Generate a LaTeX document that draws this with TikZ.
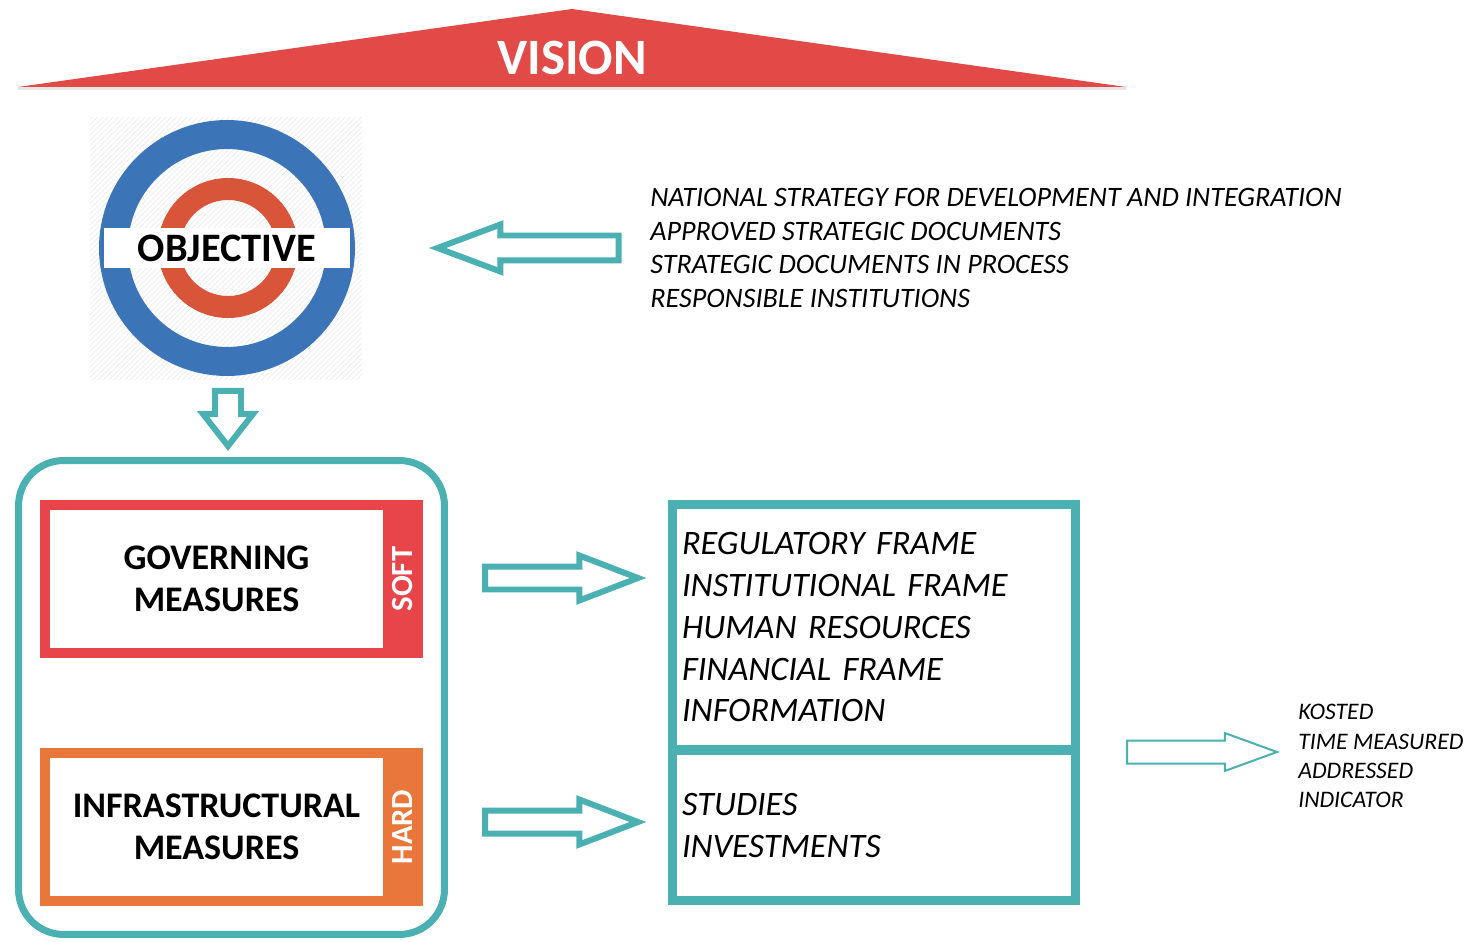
\documentclass[tikz,border=0pt]{standalone}
\usepackage{fontspec}
\setmainfont{Carlito}
\usepackage{tikz}
\usetikzlibrary{shapes.arrows, patterns}
\usetikzlibrary{positioning, calc}

\definecolor{visionred}{RGB}{226,74,71}
\definecolor{ringblue}{RGB}{59,117,184}
\definecolor{ringred}{RGB}{216,85,58}
\definecolor{tealline}{RGB}{74,176,177}
\definecolor{softred}{RGB}{232,69,74}
\definecolor{hardorange}{RGB}{233,118,58}

\tikzset{
  blockarrow/.style={single arrow, draw=tealline, fill=white, line width=0.12cm,
    inner xsep=0pt, inner ysep=0.17cm, single arrow head extend=0.22cm,
    single arrow tip angle=42},
  mbox/.style={draw=#1, line width=0.2cm, outer sep=0pt, minimum width=6.86cm,
    minimum height=2.96cm, align=center, font=\fontsize{20.5}{24}\selectfont\bfseries},
  tabbox/.style={fill=#1, rotate=90, minimum width=3.16cm, minimum height=0.8cm,
    text=white, font=\fontsize{17.5}{17.5}\selectfont\bfseries},
  framebox/.style={draw=tealline, line width=0.18cm, outer sep=0pt, minimum width=8.06cm,
    text width=7.68cm, inner xsep=0.19cm, align=left,
    font=\fontsize{19.5}{23.8}\selectfont\itshape},
}

\begin{document}
\begin{tikzpicture}[x=0.02cm, y=-0.02cm]
\useasboundingbox (0,0) rectangle (1474,942);

% vision roof
\fill[visionred] (18,87) -- (572,9) -- (1126,87) -- cycle;
\draw[gray!20, line width=0.06cm] (18,89) -- (1126,89);
\node[text=white, font=\fontsize{29}{29}\selectfont\bfseries] at (572,58) (vision) {VISION};

% objective sign
\fill[pattern=north east lines, pattern color=gray!15] (90,118) rectangle (362,380);
\node[circle, draw=ringblue, line width=0.58cm, minimum size=4.54cm] at (227,248) (ring1) {};
\node[circle, draw=ringred, line width=0.44cm, minimum size=2.36cm] at (228,248) (ring2) {};
\node[fill=white, minimum width=4.92cm, minimum height=0.8cm,
  font=\fontsize{23}{23}\selectfont\bfseries] at (227,248) (obj) {OBJECTIVE};

\node[anchor=west, align=left, inner sep=0pt,
  font=\fontsize{16}{19}\selectfont\itshape] at (650,248) (src) {NATIONAL STRATEGY FOR DEVELOPMENT AND INTEGRATION\\
APPROVED STRATEGIC DOCUMENTS\\
STRATEGIC DOCUMENTS IN PROCESS\\
RESPONSIBLE INSTITUTIONS};

\node[blockarrow, shape border rotate=180, anchor=tip, minimum height=3.62cm,
  inner ysep=0.19cm, single arrow tip angle=41] at (429,248) (a1) {};

\node[blockarrow, shape border rotate=270, anchor=tail, minimum height=1.1cm,
  inner xsep=0.2cm, inner ysep=0pt, single arrow head extend=0.24cm,
  single arrow tip angle=76] at (228,388) (a0) {};

% measures
\node[draw=tealline, line width=0.14cm, rounded corners=0.9cm, minimum width=8.52cm,
  minimum height=9.48cm] at (231.5,697.5) (frame) {};

\node[mbox=softred] at (216.5,579) (gm) {GOVERNING\\MEASURES};
\node[tabbox=softred] at (403,579) (soft) {SOFT};
\node[mbox=hardorange] at (216.5,827) (im) {INFRASTRUCTURAL\\MEASURES};
\node[tabbox=hardorange] at (403,827) (hard) {HARD};

\node[blockarrow, anchor=tail, minimum height=3.06cm] at (482,578) (a2) {};
\node[blockarrow, anchor=tail, minimum height=3.06cm] at (482,822) (a3) {};

% frames
\node[framebox, minimum height=4.91cm] at (874,627.25) (f1) {REGULATORY FRAME\\
INSTITUTIONAL FRAME\\
HUMAN RESOURCES\\
FINANCIAL FRAME\\
INFORMATION};
\node[framebox, minimum height=3.01cm] at (874,825.25) (f2) {STUDIES\\
INVESTMENTS};

\node[blockarrow, line width=0.04cm, anchor=tail, minimum height=3.0cm, inner ysep=0.21cm,
  single arrow head extend=0.15cm, single arrow tip angle=40] at (1126,752) (a4) {};

\node[anchor=west, align=left, inner sep=0pt,
  font=\fontsize{13.5}{16.6}\selectfont\itshape] at (1298,756) (check) {KOSTED\\
TIME MEASURED\\
ADDRESSED\\
INDICATOR};

\end{tikzpicture}
\end{document}
